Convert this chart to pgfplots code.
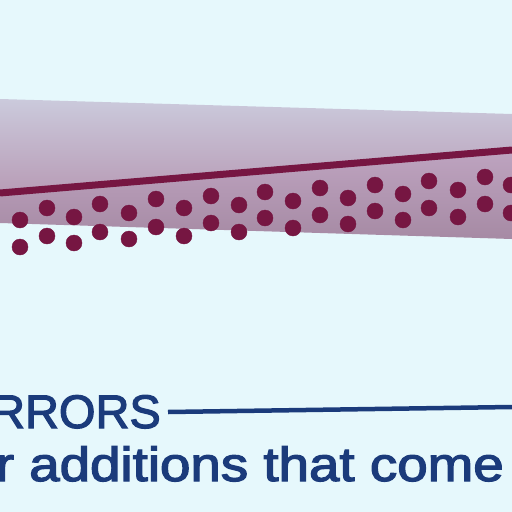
\documentclass[border=0pt]{standalone}
\usepackage{pgfplots}
\pgfplotsset{compat=1.18}
\usepackage{graphicx}
\usepackage{fontspec}
\setmainfont{Liberation Sans}
\newfontfamily\heavy[FakeBold=2.5]{Liberation Sans}

\definecolor{bgcyan}{HTML}{E6F8FC}
\definecolor{bandtop}{HTML}{CBCADC}
\definecolor{bandmid}{HTML}{B89CB6}
\definecolor{bandlow}{HTML}{BEA4C0}
\definecolor{bandbot}{HTML}{A68AA4}
\definecolor{maroon}{HTML}{761642}
\definecolor{navy}{HTML}{1B3B7B}

\begin{document}
\begin{tikzpicture}
\begin{axis}[
    width=512pt, height=512pt, scale only axis,
    xmin=0, xmax=512, ymin=0, ymax=512,
    y dir=reverse,
    hide axis,
    clip=true,
]
% background
\addplot[fill=bgcyan, draw=none] coordinates {(0,0) (512,0) (512,512) (0,512)} -- cycle;

% band above the trend line
\addplot[draw=none, top color=bandtop, bottom color=bandmid]
    coordinates {(0,99) (512,114) (512,150) (0,193)} -- cycle;
% band below the trend line
\addplot[draw=none, top color=bandlow, bottom color=bandbot]
    coordinates {(0,193) (512,150) (512,239) (0,223)} -- cycle;

% trend line
\addplot[maroon, line width=7pt] coordinates {(0,193) (512,150)};

% dots
\addplot[only marks, mark=*, mark size=8pt, mark options={fill=maroon, draw=maroon}]
    coordinates {
    (-7,211) (-7,238)
    (20,220) (20,247)
    (47,208) (47,236)
    (74,217) (74,243)
    (100,204) (100,232)
    (129,213) (129,239)
    (156,199) (156,227)
    (184,208) (184,236)
    (211,196) (211,223)
    (239,205) (239,232)
    (265,192) (265,218)
    (293,201) (293,228)
    (320,188) (320,215)
    (348,198) (348,224)
    (375,185) (375,211)
    (403,194) (403,220)
    (429,181) (429,208)
    (458,190) (458,217)
    (485,177) (485,204)
    (511,185) (511,213)
    };

% rule after the heading
\addplot[navy, line width=4.5pt] coordinates {(168,412) (512,407)};

\node[anchor=base east, inner sep=0pt, text=navy, font=\heavy\fontsize{47}{50}\selectfont]
    at (axis cs:161,428) {ERRORS};
\node[anchor=base east, inner sep=0pt, text=navy, font=\heavy\fontsize{48}{52}\selectfont]
    at (axis cs:504,481) {\scalebox{1.14}[1]{or additions that come}};
\end{axis}
\pgfresetboundingbox
\useasboundingbox (current axis.south west) rectangle (current axis.north east);
\end{tikzpicture}
\end{document}
